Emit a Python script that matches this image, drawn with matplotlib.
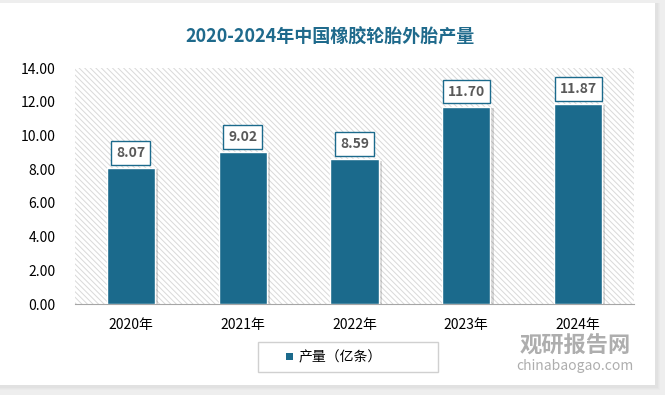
import matplotlib
matplotlib.use("Agg")
import matplotlib.pyplot as plt
from matplotlib.patches import Rectangle

plt.rcParams['font.family'] = ['Noto Sans CJK SC', 'DejaVu Sans']
plt.rcParams['hatch.color'] = '#c8c8c8'
plt.rcParams['hatch.linewidth'] = 0.7

# ── Data ─────────────────────────────────────────────────────────────────
years = ["2020年", "2021年", "2022年", "2023年", "2024年"]
output = [8.07, 9.02, 8.59, 11.70, 11.87]
yticks = [0, 2, 4, 6, 8, 10, 12, 14]
series_name = "产量（亿条）"

BAR = "#1b6a8c"
TITLE = "#1f6a8c"
TEXT = "#595959"

W, H = 665, 395
fig = plt.figure(figsize=(W / 100, H / 100), dpi=100)
fig.patch.set_facecolor("#eeeeee")

# white card with soft shadow
bg = fig.add_axes([0, 0, 1, 1], zorder=-10)
bg.set_xlim(0, W); bg.set_ylim(H, 0); bg.axis("off")
for i, a in enumerate([0.05, 0.06, 0.08]):
    bg.add_patch(Rectangle((0, 3), 657 + 3 - i, 384 + 3 - i, color="#b0b0b0", alpha=a, lw=0))
bg.add_patch(Rectangle((0, 3), 655, 382, color="white", lw=0))

# legend box (drawn by hand to match the wide frame)
bg.add_patch(Rectangle((258, 342), 180, 30, facecolor="white", edgecolor="#d0d0d0", lw=1.0))
bg.add_patch(Rectangle((286, 353), 7, 7, facecolor=BAR, lw=0))
bg.text(299, 357, series_name, ha="left", va="center", fontsize=10, color="#000000")

# title
fig.text(330 / W, 1 - 37 / H, "2020-2024年中国橡胶轮胎外胎产量", ha="center", va="center",
         fontsize=13, fontweight="bold", color=TITLE)

# plot area
x0, x1, y0, y1 = 75, 634, 68, 304
ax = fig.add_axes([x0 / W, 1 - y1 / H, (x1 - x0) / W, (y1 - y0) / H])
ax.add_patch(Rectangle((0, 0), 1, 1, transform=ax.transAxes, facecolor="white",
                       hatch="\\\\\\\\\\\\", edgecolor="#d9d9d9", lw=0, zorder=0))
ax.set_facecolor("white")

xs = range(len(years))
# shadows
ax.bar([x + 0.03 for x in xs], [v - 0.08 for v in output], width=0.43, color="#000000",
       alpha=0.15, zorder=2)
bars = ax.bar(xs, output, width=0.43, color=BAR, edgecolor="white", linewidth=1.0,
              zorder=3)

for x, v in zip(xs, output):
    ax.text(x, v + 0.9, f"{v:.2f}", ha="center", va="center", fontsize=10,
            fontweight="bold", color=TEXT, zorder=4,
            bbox=dict(boxstyle="square,pad=0.35", facecolor="white", edgecolor=BAR, lw=1.0))

ax.set_xlim(-0.5, len(years) - 0.5)
ax.set_ylim(0, 14)
ax.set_yticks(yticks)
ax.set_yticklabels([f"{t:.2f}" for t in yticks], fontsize=10, color="#000000")
ax.set_xticks(list(xs))
ax.set_xticklabels(years, fontsize=10, color="#000000")
ax.tick_params(length=0, pad=10)
ax.tick_params(axis="y", pad=14)
for s in ["top", "right", "left"]:
    ax.spines[s].set_visible(False)
ax.spines["bottom"].set_color("#a6a6a6")

# watermark
fig.text(575 / W, 1 - 346 / H, "观研报告网", ha="center", va="center", fontsize=16,
         fontweight="bold", color="#9a9a9a", alpha=0.8)
fig.text(575 / W, 1 - 366 / H, "chinabaogao.com", ha="center", va="center", fontsize=10,
         color="#9a9a9a", alpha=0.8)

fig.savefig("out.png", dpi=100, facecolor=fig.get_facecolor())
